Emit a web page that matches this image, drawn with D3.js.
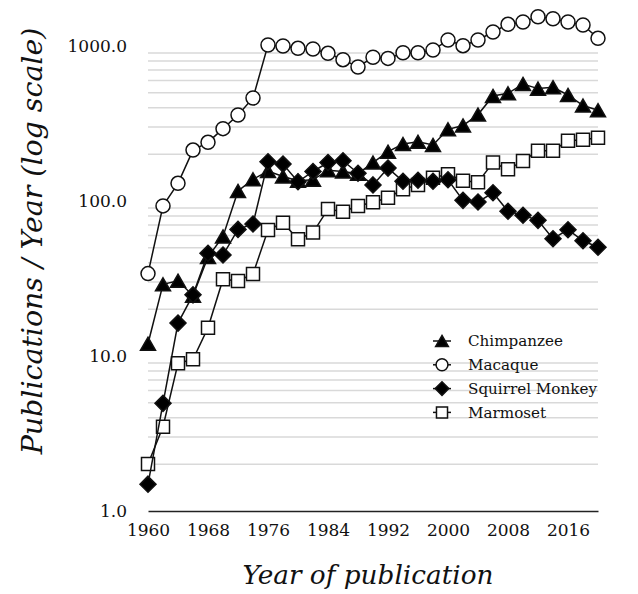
<!DOCTYPE html>
<html>
<head>
<meta charset="utf-8">
<script src="https://cdn.jsdelivr.net/npm/d3@7"></script>
<style>
  html, body { margin: 0; padding: 0; background: #fff; }
  svg { display: block; }
  text { font-family: "DejaVu Serif", "Liberation Serif", serif; fill: #111; }
</style>
</head>
<body>
<svg id="chart" width="638" height="594"></svg>
<script>
// ---- data ----
const years = [1960,1962,1964,1966,1968,1970,1972,1974,1976,1978,1980,1982,1984,1986,1988,1990,
               1992,1994,1996,1998,2000,2002,2004,2006,2008,2010,2012,2014,2016,2018,2020];
const chimpanzee = [12,29,30.6,24.5,43.5,59,116,138,156,144,135,137,158,155,150,177,
                    208,233,241,230,290,307,361,476,495,569,531,542,483,413,385];
const macaque = [34,93,130,213,239,293,359,462,1015,1000,966,957,897,816,732,846,
                 832,905,905,942,1093,1005,1093,1231,1380,1429,1545,1500,1429,1366,1121];
const squirrelMonkey = [1.49,4.95,16.3,24.8,46,44.8,65.6,71.1,179,173,133,155,177,182,151,127,
                        163,134,136,134,137,101,98.6,113,85.9,80.9,75,57.1,65.3,55.4,50.3];
const marmoset = [2.01,3.5,8.97,9.52,15.2,31.3,30.5,33.8,65,72.4,56.6,62.6,88.8,85.3,92.9,98.2,
                  105,119,127,141,149,135,132,177,160,181,211,211,245,248,256];
const seriesNames = ["Chimpanzee","Macaque","Squirrel Monkey","Marmoset"];
const xTickValues = [1960,1968,1976,1984,1992,2000,2008,2016];
const yTickValues = [1,10,100,1000];
const yTickLabels = ["1.0","10.0","100.0","1000.0"];
const xTitle = "Year of publication";
const yTitle = "Publications / Year (log scale)";

// ---- layout ----
const svg = d3.select("#chart");
const x = d3.scaleLinear().domain([1960, 2020]).range([148, 598]);
const y = d3.scaleLog().domain([1, 10 ** (511 / 155)]).range([511, 0]);

// minor gridlines (2..9 of each decade)
const minor = [];
for (let d = 1; d <= 100; d *= 10) for (let k = 2; k <= 9; k++) minor.push(k * d);
svg.append("g").selectAll("line").data(minor).join("line")
  .attr("x1", x(1960)).attr("x2", x(2020))
  .attr("y1", d => y(d)).attr("y2", d => y(d))
  .attr("stroke", "#d9d9d9").attr("stroke-width", 1.5);

// x axis
const xAxis = svg.append("g").attr("transform", `translate(0,${y(1)})`)
  .call(d3.axisBottom(x).tickValues(xTickValues).tickFormat(d3.format("d")).tickSize(0).tickPadding(13));
xAxis.select(".domain").attr("stroke", "#222").attr("stroke-width", 1.5);
xAxis.selectAll("text").attr("font-size", 17).attr("font-family", "DejaVu Serif").attr("fill", "#111");

// y axis (labels only)
const yAxis = svg.append("g").attr("transform", `translate(${x(1960)},0)`)
  .call(d3.axisLeft(y).tickValues(yTickValues).tickFormat((d, i) => yTickLabels[i]).tickSize(0).tickPadding(21));
yAxis.select(".domain").remove();
yAxis.selectAll("text").attr("font-size", 17).attr("font-family", "DejaVu Serif").attr("fill", "#111");

// titles
function fit(sel, target) {
  const w = sel.node().getComputedTextLength();
  const fs = parseFloat(sel.attr("font-size"));
  sel.attr("font-size", fs * target / w);
}
const xt = svg.append("text").attr("x", 368).attr("y", 584).attr("text-anchor", "middle")
  .attr("font-style", "italic").attr("font-size", 26).text(xTitle);
fit(xt, 251);
const yt = svg.append("text").attr("transform", "translate(42,241) rotate(-90)").attr("text-anchor", "middle")
  .attr("font-style", "italic").attr("font-size", 26).text(yTitle);
fit(yt, 427);

// ---- series ----
function triPath(s) { // triangle centered on bbox middle
  const h = s * 0.87;
  return `M0,${-h/2}L${s/2},${h/2}L${-s/2},${h/2}Z`;
}
const shapes = {
  "Chimpanzee":     { fill: "#000", path: s => triPath(s), size: 15 },
  "Macaque":        { fill: "#fff", path: s => d3.symbol(d3.symbolCircle, Math.PI * (s/2) ** 2)(), size: 14 },
  "Squirrel Monkey":{ fill: "#000", path: s => `M0,${-s/2}L${s/2},0L0,${s/2}L${-s/2},0Z`, size: 16 },
  "Marmoset":       { fill: "#fff", path: s => `M${-s/2},${-s/2}H${s/2}V${s/2}H${-s/2}Z`, size: 13 }
};
const valuesByName = {
  "Chimpanzee": chimpanzee, "Macaque": macaque,
  "Squirrel Monkey": squirrelMonkey, "Marmoset": marmoset
};
const drawOrder = ["Chimpanzee","Macaque","Marmoset","Squirrel Monkey"];
const line = d3.line().x(d => x(d[0])).y(d => y(d[1]));

drawOrder.forEach(name => {
  const pts = years.map((yr, i) => [yr, valuesByName[name][i]]);
  const g = svg.append("g");
  g.append("path").datum(pts).attr("d", line)
    .attr("fill", "none").attr("stroke", "#111").attr("stroke-width", 1.5);
  const sh = shapes[name];
  g.selectAll("path.m").data(pts).join("path").attr("class", "m")
    .attr("d", sh.path(sh.size))
    .attr("transform", d => `translate(${x(d[0])},${y(d[1])})`)
    .attr("fill", sh.fill).attr("stroke", "#111").attr("stroke-width", 1.5);
});

// ---- legend ----
const lg = svg.append("g").attr("transform", "translate(433,341)");
seriesNames.forEach((name, i) => {
  const row = lg.append("g").attr("transform", `translate(0,${i * 23.8})`);
  row.append("line").attr("x1", 0).attr("x2", 18).attr("y1", 0).attr("y2", 0)
    .attr("stroke", "#111").attr("stroke-width", 1.5);
  const sh = shapes[name];
  row.append("path").attr("d", sh.path(sh.size * 0.85)).attr("transform", "translate(9,0)")
    .attr("fill", sh.fill).attr("stroke", "#111").attr("stroke-width", 1.5);
  row.append("text").attr("x", 35).attr("y", 0).attr("dy", "0.35em")
    .attr("font-size", 16).attr("class", "lt").text(name);
});
const sq = lg.selectAll("text.lt").filter(function() { return this.textContent === "Squirrel Monkey"; });
const ratio = 129 / sq.node().getComputedTextLength();
lg.selectAll("text.lt").attr("font-size", 16 * ratio);
</script>
</body>
</html>
